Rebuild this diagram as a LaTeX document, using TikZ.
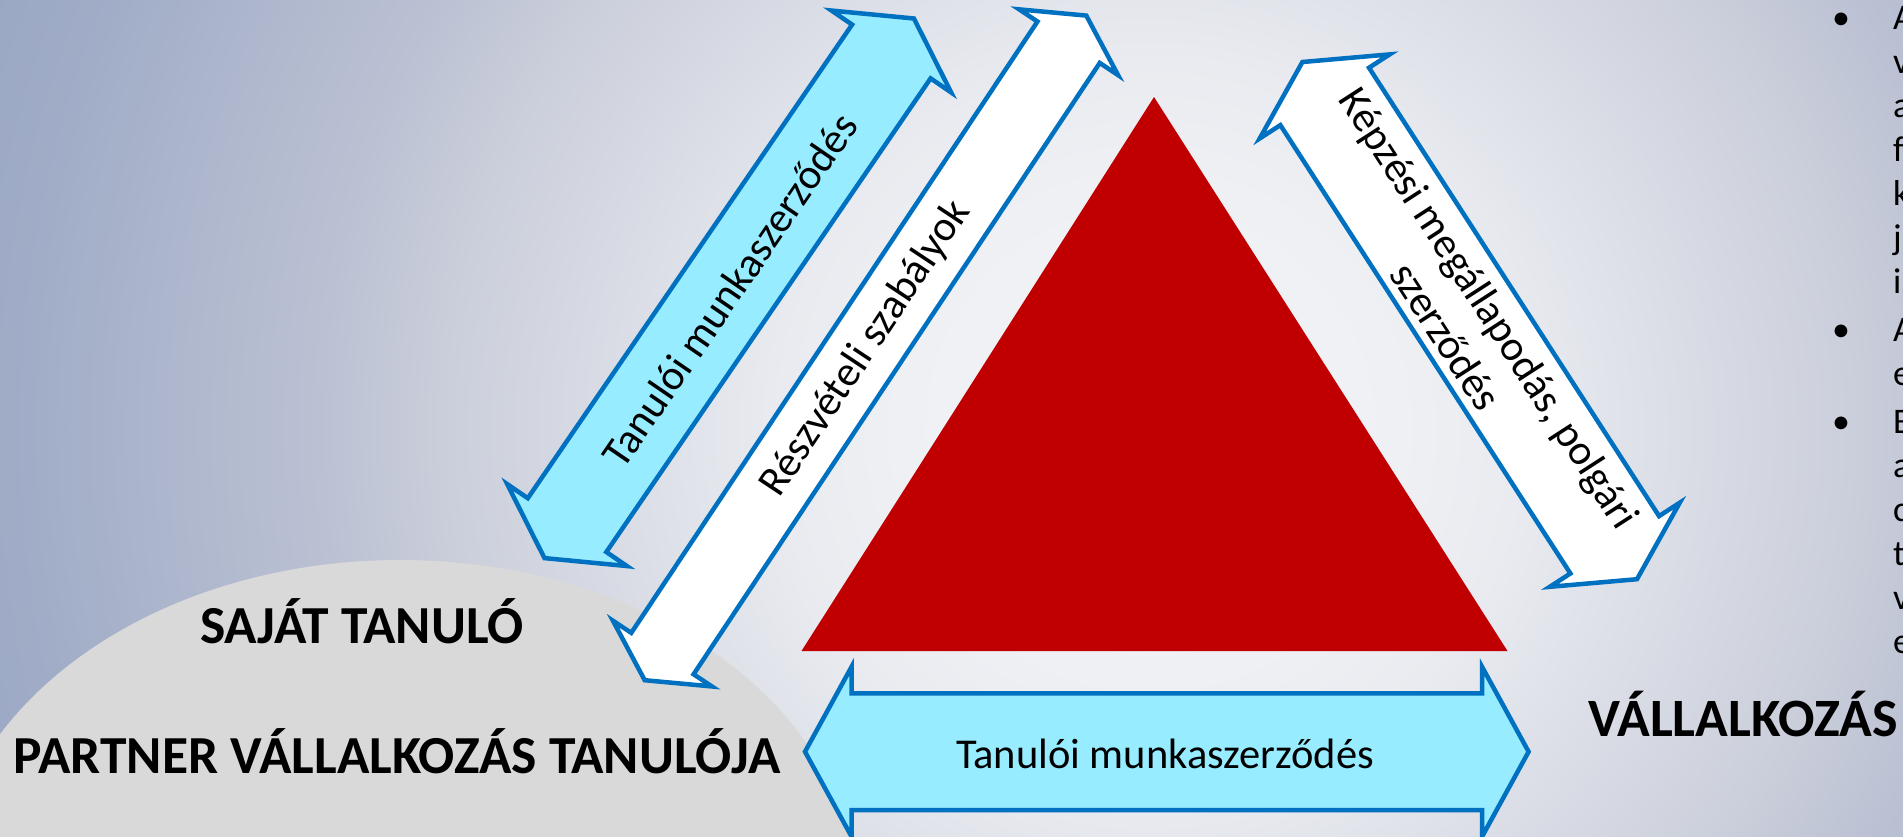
\documentclass[tikz,border=0pt]{standalone}
\usepackage{fontspec}
\setmainfont{Carlito}
\definecolor{arrowblue}{RGB}{0,112,192}
\definecolor{cyanfill}{RGB}{152,236,255}
\definecolor{trired}{RGB}{192,0,0}
\definecolor{ellgray}{RGB}{217,217,217}
\definecolor{bg0}{RGB}{244,245,248}
\definecolor{bg1}{RGB}{239,240,244}
\definecolor{bg2}{RGB}{233,235,240}
\definecolor{bg3}{RGB}{203,207,219}
\definecolor{bg4}{RGB}{187,193,211}
\definecolor{bg5}{RGB}{161,173,199}
\definecolor{bg6}{RGB}{154,167,195}
\pgfdeclareradialshading{bgshade}{\pgfpoint{0bp}{0bp}}{color(0bp)=(bg0); color(5bp)=(bg1); color(7.4bp)=(bg2); color(14bp)=(bg3); color(16.6bp)=(bg4); color(22.4bp)=(bg5); color(25bp)=(bg6); color(50bp)=(bg6)}
\tikzset{
  arrowbox/.style={draw=arrowblue, line width=4.5pt, line join=miter},
  cyanarrow/.style={arrowbox, fill=cyanfill},
  whitearrow/.style={arrowbox, fill=white},
  arrowtext/.style={font=\fontsize{42.5}{52}\selectfont, text=black, inner sep=0pt},
  biglabel/.style={font=\bfseries\fontsize{53.5}{62}\selectfont, text=black, inner sep=0pt},
  sidetext/.style={font=\fontsize{36}{44}\selectfont, text=black, anchor=base west, inner sep=0pt},
  bulletmark/.style={font=\fontsize{36}{44}\selectfont, text=black, anchor=base, inner sep=0pt},
}
% style, cx, cy, angle, half-length, head length, shaft half-width, head half-width
\newcommand{\dblarrowshape}[8]{%
  \begin{scope}[shift={(#2,#3)}, rotate=#4]
    \path[#1] (#5,0) -- ({#5-#6},{#8}) -- ({#5-#6},{#7}) -- ({-#5+#6},{#7}) -- ({-#5+#6},{#8})
      -- ({-#5},0) -- ({-#5+#6},{-#8}) -- ({-#5+#6},{-#7}) -- ({#5-#6},{-#7}) -- ({#5-#6},{-#8}) -- cycle;
  \end{scope}}
\begin{document}
\begin{tikzpicture}[x=1pt,y=-1pt]
\clip (0,0) rectangle (1903,836);
\fill[bg6] (0,0) rectangle (1903,836);
\shade[shading=bgshade] (1150,430) circle (1250pt);
% grey ellipse
\fill[ellgray] (400,900) ellipse [x radius=458pt, y radius=340pt];
% diagonal arrows
\dblarrowshape{cyanarrow}{729.2}{288.3}{55.6}{327}{40}{47.6}{72.5}
\dblarrowshape{whitearrow}{865.5}{347.9}{56.4}{399}{32}{37.4}{59.4}
\dblarrowshape{whitearrow}{1469.7}{320.6}{-57.1}{308}{41}{52.8}{77.4}
% red triangle
\fill[trired] (1154,97) coordinate (apex) -- (801.5,651) coordinate (bl) -- (1507.5,651) coordinate (br) -- cycle;
% bottom arrow
\dblarrowshape{cyanarrow}{1166.8}{751.7}{0}{361.8}{46.6}{58.35}{85}
% arrow labels
\node[arrowtext, rotate=55.6] (lbl1) at (729.5,290) {Tanulói munkaszerződés};
\node[arrowtext, rotate=56.4] (lbl2) at (866,348.5) {Részvételi szabályok};
\node[arrowtext, rotate=-57.1, align=center] (lbl3) at (1468,322) {Képzési megállapodás, polgári\\szerződés};
\node[arrowtext, anchor=base] (lbl4) at (1165,768) {Tanulói munkaszerződés};
% big labels
\node[biglabel, anchor=base] (sajat) at (362,643) {SAJÁT TANULÓ};
\node[biglabel, anchor=base] (partner) at (397,773) {PARTNER VÁLLALKOZÁS TANULÓJA};
\node[biglabel, anchor=base east, font=\bfseries\fontsize{54}{62}\selectfont] (vall) at (1898,736) {VÁLLALKOZÁS};
% right bullet column (cut off at the edge)
\node[bulletmark] (b1) at (1841,29) {•};
\node[bulletmark] (b2) at (1841,341) {•};
\node[bulletmark] (b3) at (1841,433) {•};
\node[sidetext] (r1) at (1893,29) {A};
\node[sidetext] (r2) at (1893,73) {v};
\node[sidetext] (r3) at (1893,117) {a};
\node[sidetext] (r4) at (1893,161) {f};
\node[sidetext] (r5) at (1893,205) {k};
\node[sidetext] (r6) at (1893,249) {j};
\node[sidetext] (r7) at (1893,293) {i};
\node[sidetext] (r8) at (1893,341) {A};
\node[sidetext] (r9) at (1893,385) {e};
\node[sidetext] (r10) at (1893,433) {B};
\node[sidetext] (r11) at (1893,477) {a};
\node[sidetext] (r12) at (1893,521) {c};
\node[sidetext] (r13) at (1893,565) {t};
\node[sidetext] (r14) at (1893,609) {v};
\node[sidetext] (r15) at (1893,653) {e};
\end{tikzpicture}
\end{document}
